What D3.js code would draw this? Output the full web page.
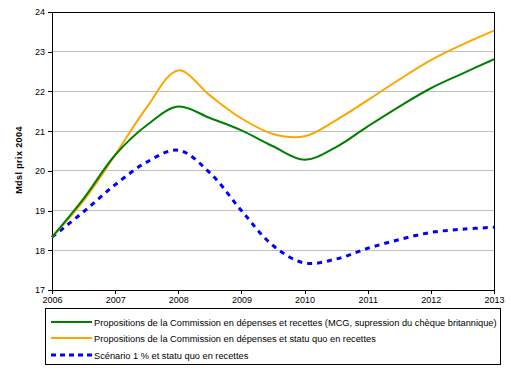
<!DOCTYPE html>
<html><head><meta charset="utf-8">
<script src="https://cdn.jsdelivr.net/npm/d3@7"></script>
<style>body{margin:0;background:#fff}svg{display:block;font-family:"Liberation Sans",Arial,sans-serif}</style>
</head><body>
<script>
const years = [2006,2006.5,2007,2007.5,2008,2008.5,2009,2009.5,2010,2010.5,2011,2011.5,2012,2012.5,2013];
const greenVals  = [18.33,19.3,20.4,21.15,21.62,21.33,21.02,20.62,20.28,20.6,21.12,21.62,22.08,22.45,22.81];
const orangeVals = [18.33,19.25,20.4,21.6,22.53,21.9,21.32,20.93,20.87,21.28,21.78,22.3,22.79,23.18,23.53];
const blueVals   = [18.33,18.97,19.65,20.22,20.52,19.95,19.0,18.12,17.68,17.78,18.05,18.27,18.45,18.53,18.58];
const xTicks = [2006,2007,2008,2009,2010,2011,2012,2013];
const yTicks = [17,18,19,20,21,22,23,24];
const seriesNames = [
  "Propositions de la Commission en dépenses et recettes (MCG, supression du chèque britannique)",
  "Propositions de la Commission en dépenses et statu quo en recettes",
  "Scénario 1 % et statu quo en recettes"
];
const yTitle = "Mdsl prix 2004";

const W=511,H=378;
const svg=d3.select("body").append("svg").attr("width",W).attr("height",H);
const L=52,R=494,T=12,B=290;
const x=d3.scaleLinear().domain([2006,2013]).range([L,R]);
const y=d3.scaleLinear().domain([17,24]).range([B,T]);

// grid
svg.append("g").selectAll("line").data(yTicks.filter(v=>v>17&&v<24)).join("line")
  .attr("x1",L).attr("x2",R).attr("y1",d=>y(d)).attr("y2",d=>y(d))
  .attr("stroke","#c0c0c0").attr("stroke-width",1).attr("shape-rendering","crispEdges");
// border
svg.append("rect").attr("x",L).attr("y",T).attr("width",R-L).attr("height",B-T)
  .attr("fill","none").attr("stroke","#000").attr("stroke-width",1).attr("shape-rendering","crispEdges");

const yAxis=svg.append("g").attr("transform",`translate(${L},0)`)
  .call(d3.axisLeft(y).tickValues(yTicks).tickFormat(d3.format("d")).tickSize(4).tickPadding(3));
const xAxis=svg.append("g").attr("transform",`translate(0,${B})`)
  .call(d3.axisBottom(x).tickValues(xTicks).tickFormat(d3.format("d")).tickSize(4).tickPadding(3));
[yAxis,xAxis].forEach(a=>{
  a.select(".domain").attr("stroke","#000").attr("shape-rendering","crispEdges");
  a.selectAll(".tick line").attr("stroke","#000").attr("shape-rendering","crispEdges");
  a.selectAll("text").attr("font-size",9).attr("font-family","Liberation Sans, Arial, sans-serif").attr("fill","#000");
});

svg.append("text").attr("transform",`translate(22,160) rotate(-90)`)
  .attr("text-anchor","middle").attr("font-size",9).attr("font-weight","bold")
  .attr("letter-spacing",0.4).text(yTitle);

const line=d3.line().x((d,i)=>x(years[i])).y(d=>y(d)).curve(d3.curveCatmullRom.alpha(0.5));
const styles=[
  {vals:greenVals,color:"#008000",w:2,dash:null},
  {vals:orangeVals,color:"#ffa500",w:2,dash:null},
  {vals:blueVals,color:"#0000ff",w:3,dash:"5,5"}
];
styles.slice().reverse().forEach(s=>{
  svg.append("path").attr("d",line(s.vals)).attr("fill","none")
    .attr("stroke",s.color).attr("stroke-width",s.w).attr("stroke-dasharray",s.dash);
});

// legend
const lg=svg.append("g");
lg.append("rect").attr("x",45.5).attr("y",308.5).attr("width",455).attr("height",56)
  .attr("fill","#fff").attr("stroke","#000").attr("stroke-width",1);
const ly=[322,338,355];
const texts=[];
styles.forEach((s,i)=>{
  lg.append("line").attr("x1",51).attr("x2",92).attr("y1",ly[i]).attr("y2",ly[i])
    .attr("stroke",s.color).attr("stroke-width",s.w).attr("stroke-dasharray",s.dash?"5,4":null);
  texts.push(lg.append("text").attr("x",94).attr("y",ly[i]+3.5).attr("font-size",10).text(seriesNames[i]));
});
// fit first line into box width
const w0=texts[0].node().getComputedTextLength();
const fs=Math.min(10,10*403/w0);
texts.forEach(t=>t.attr("font-size",fs));
</script>
</body></html>
